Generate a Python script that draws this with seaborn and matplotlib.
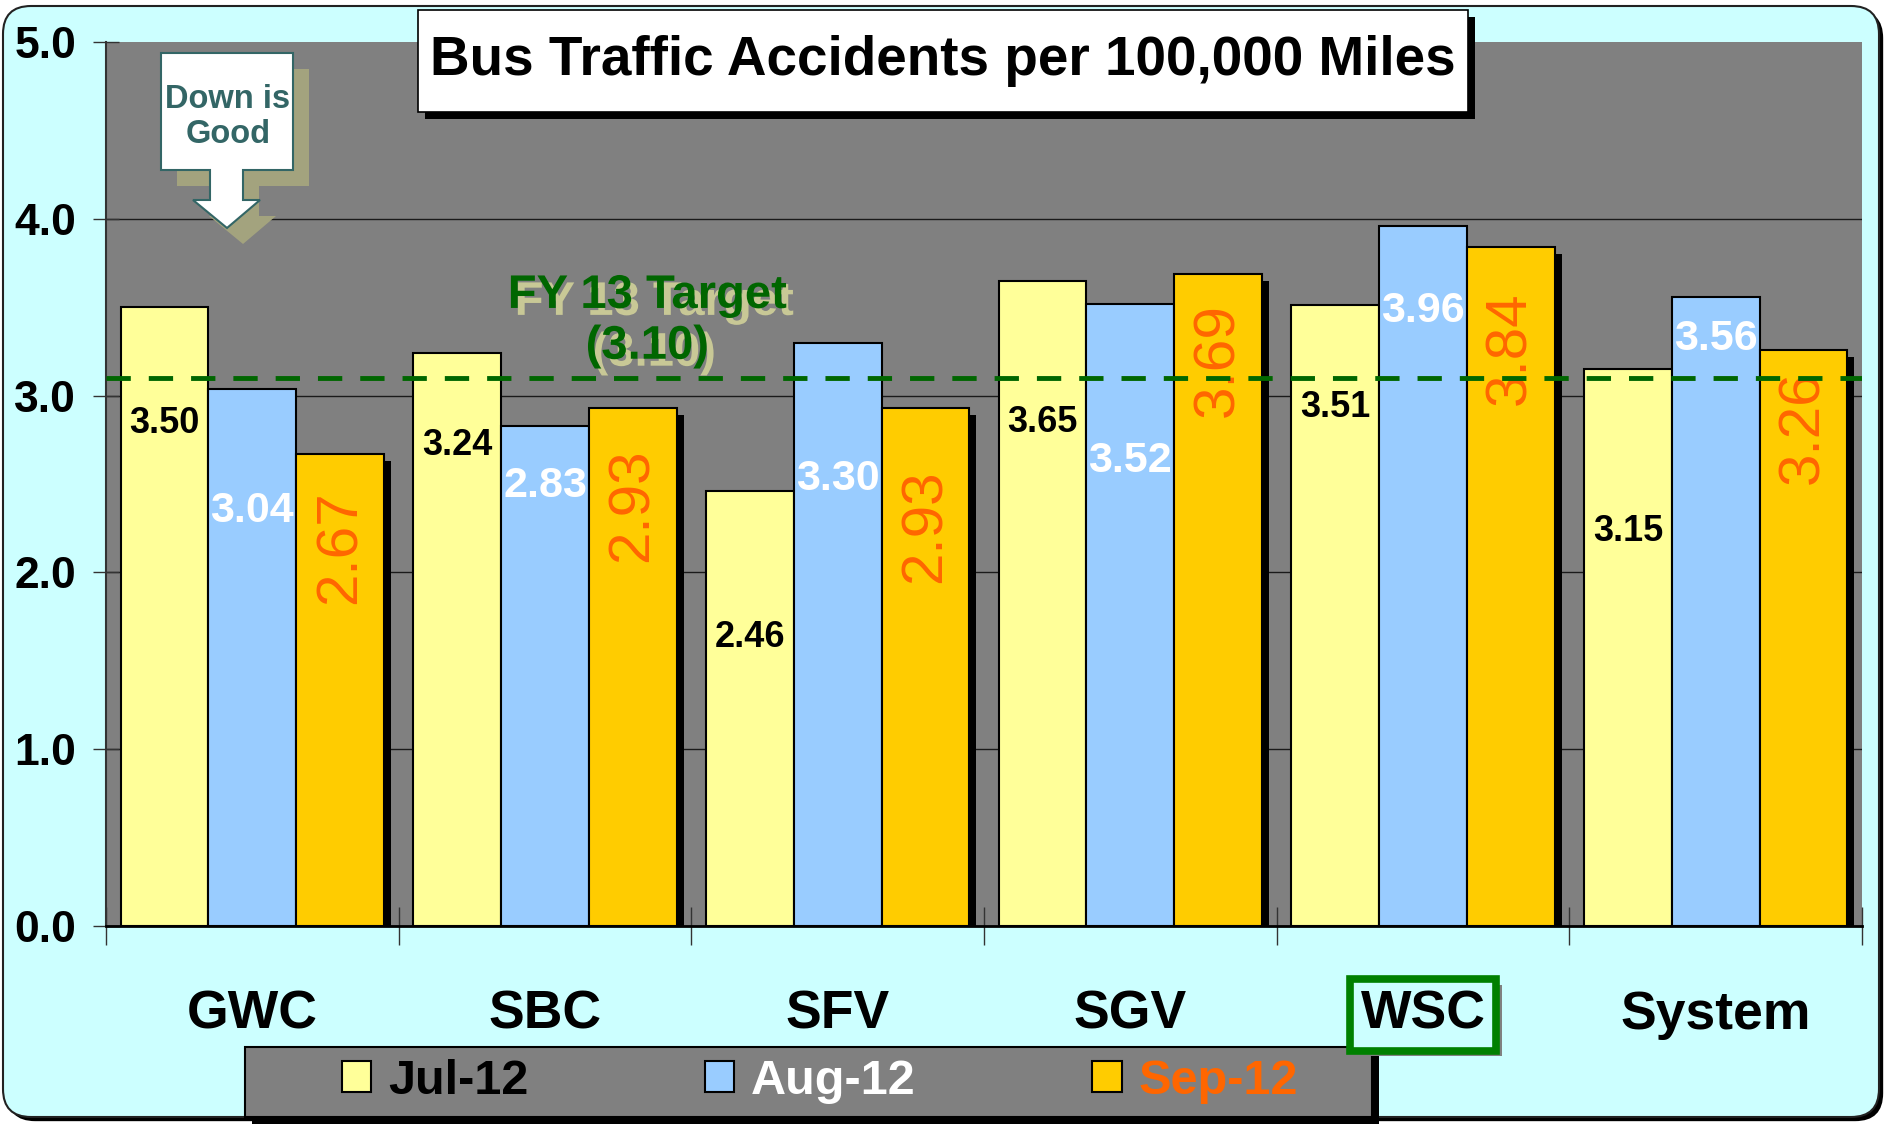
import numpy as np
import pandas as pd
import matplotlib
matplotlib.use("Agg")
import matplotlib.pyplot as plt
import matplotlib.patheffects as pe
from matplotlib.patches import FancyBboxPatch, Rectangle, Polygon, Patch
import seaborn as sns

# =====================================================
# Data
# =====================================================

regions = ["GWC", "SBC", "SFV", "SGV", "WSC", "System"]
months = ["Jul-12", "Aug-12", "Sep-12"]

jul = [3.50, 3.24, 2.46, 3.65, 3.51, 3.15]
aug = [3.04, 2.83, 3.30, 3.52, 3.96, 3.56]
sep = [2.67, 2.93, 2.93, 3.69, 3.84, 3.26]

target = 3.10

# heights (data units) where the value labels were placed inside the bars
jul_label_y = [2.84, 2.72, 1.63, 2.85, 2.93, 2.23]
aug_label_y = [2.35, 2.49, 2.53, 2.63, 3.48, 3.32]
sep_label_y = [2.14, 2.38, 2.26, 3.20, 3.27, 2.82]

month_colors = ["#FFFF99", "#99CCFF", "#FFCC00"]
legend_text_colors = ["black", "white", "#FF6600"]

df = pd.DataFrame({
    "region": regions * 3,
    "month": [m for m in months for _ in regions],
    "value": jul + aug + sep,
})

# =====================================================
# Setup
# =====================================================

W, H = 1884, 1124

sns.set_theme(style="white")
plt.rcParams["font.family"] = ["Liberation Sans", "DejaVu Sans"]
plt.rcParams["text.color"] = "black"
plt.rcParams["xtick.color"] = "black"
plt.rcParams["ytick.color"] = "black"


def fx(x):
    return x / W


def fy(y):
    return 1 - y / H


fig = plt.figure(figsize=(W / 100, H / 100), dpi=100, facecolor="white")

# rounded cyan slide background
bg = FancyBboxPatch(
    (3, H - 1117), 1876, 1111,
    boxstyle="round,pad=0,rounding_size=28",
    transform=None, facecolor="#CCFFFF", edgecolor="#222222",
    linewidth=1.5, zorder=-10,
)
bg.set_path_effects([
    pe.SimplePatchShadow(offset=(3, -3), shadow_rgbFace="black", alpha=1),
    pe.Normal(),
])
fig.add_artist(bg)

ax = fig.add_axes([fx(106), fy(926), (1862 - 106) / W, (926 - 42) / H])
ax.set_facecolor("#808080")

sns.barplot(
    data=df,
    x="region",
    y="value",
    hue="month",
    palette=month_colors,
    saturation=1,
    width=0.9,
    edgecolor="black",
    linewidth=1.5,
    legend=False,
    ax=ax,
    zorder=2,
)

# shadow on the right-hand bar of each group
for bar in ax.containers[2]:
    bar.set_path_effects([
        pe.SimplePatchShadow(offset=(5, -5), shadow_rgbFace="black", alpha=1),
        pe.Normal(),
    ])

# =====================================================
# Axes styling
# =====================================================

ax.set_xlim(-0.5, len(regions) - 0.5)
ax.set_ylim(0, 5)
ax.set_xlabel("")
ax.set_ylabel("")

for side in ["top", "right"]:
    ax.spines[side].set_visible(False)
ax.spines["left"].set_color("#333333")
ax.spines["left"].set_linewidth(1.5)
ax.spines["bottom"].set_color("black")
ax.spines["bottom"].set_linewidth(2)

yticks = np.arange(0, 5.01, 1.0)
ax.set_yticks(yticks)
ax.set_yticklabels([f"{v:.1f}" for v in yticks], fontsize=32,
                   fontweight="bold", color="black")
ax.tick_params(axis="y", direction="inout", length=19, width=1,
               color="#333333", pad=12, left=True)

ax.set_axisbelow(True)
ax.yaxis.grid(True, color="#1a1a1a", linewidth=1)
ax.yaxis.get_gridlines()[-1].set_visible(False)
ax.xaxis.grid(False)

ax.set_xticks(range(len(regions)))
ax.set_xticklabels(regions, fontsize=38.5, fontweight="bold", color="black")
ax.tick_params(axis="x", which="major", length=0, pad=46)
ax.set_xticks(np.arange(-0.5, len(regions), 1.0), minor=True)
ax.tick_params(axis="x", which="minor", direction="inout", length=27,
               width=1, color="#333333", bottom=True)

# WSC highlighted with a green box
wsc = ax.get_xticklabels()[regions.index("WSC")]
wsc.set_bbox(dict(boxstyle="square,pad=0.2", facecolor="#CCFFFF",
                  edgecolor="#008000", linewidth=5.5))
wsc.get_bbox_patch().set_path_effects([
    pe.SimplePatchShadow(offset=(4, -4), shadow_rgbFace="#808080", alpha=1),
    pe.Normal(),
])

# =====================================================
# Target line and labels
# =====================================================

ax.axhline(target, color="#006600", linewidth=3.5,
           linestyle=(0, (5, 3.7)), zorder=6)

ax.text(1.35, 3.42, f"FY 13 Target\n({target:.2f})",
        ha="center", va="center", fontsize=34, fontweight="bold",
        color="#006600", zorder=7,
        path_effects=[pe.withSimplePatchShadow(offset=(5, -5),
                                               shadow_rgbFace="#C8C896",
                                               alpha=1)])

label_styles = [
    (jul, jul_label_y, dict(fontsize=26, fontweight="bold", color="black")),
    (aug, aug_label_y, dict(fontsize=31, fontweight="bold", color="white")),
    (sep, sep_label_y, dict(fontsize=42, color="#FF6600", rotation=90)),
]
for container, (vals, ys, style) in zip(ax.containers, label_styles):
    for bar, v, y in zip(container, vals, ys):
        xc = bar.get_x() + bar.get_width() / 2
        ax.text(xc, y, f"{v:.2f}", ha="center", va="center",
                zorder=5, **style)

# =====================================================
# Title box
# =====================================================

title_box = Rectangle((fx(418), fy(112)), (1468 - 418) / W, (112 - 10) / H,
                      transform=fig.transFigure, facecolor="white",
                      edgecolor="black", linewidth=1.2, zorder=3)
title_box.set_path_effects([
    pe.SimplePatchShadow(offset=(5, -5), shadow_rgbFace="black", alpha=1),
    pe.Normal(),
])
fig.add_artist(title_box)
fig.text(fx(943), fy(61), "Bus Traffic Accidents per 100,000 Miles",
         ha="center", va="center", fontsize=39.5, fontweight="bold",
         color="black", zorder=4)

# =====================================================
# "Down is Good" callout
# =====================================================

arrow_px = [(161, 53), (293, 53), (293, 170), (243, 170), (243, 200),
            (260, 200), (227, 228), (193, 200), (210, 200), (210, 170),
            (161, 170)]
shadow = Polygon([(fx(x + 16), fy(y + 16)) for x, y in arrow_px],
                 closed=True, transform=fig.transFigure,
                 facecolor="#A3A37E", edgecolor="none", zorder=3)
fig.add_artist(shadow)
callout = Polygon([(fx(x), fy(y)) for x, y in arrow_px], closed=True,
                  transform=fig.transFigure, facecolor="white",
                  edgecolor="#336666", linewidth=1.5, zorder=4)
fig.add_artist(callout)
fig.text(fx(228), fy(117), "Down is\nGood", ha="center", va="center",
         fontsize=23.5, fontweight="bold", color="#336666",
         linespacing=1.2, zorder=5)

# =====================================================
# Legend
# =====================================================

leg_box = Rectangle((fx(245), fy(1117)), (1372 - 245) / W, (1117 - 1047) / H,
                    transform=fig.transFigure, facecolor="#808080",
                    edgecolor="black", linewidth=1.5, zorder=-1)
leg_box.set_path_effects([
    pe.SimplePatchShadow(offset=(5, -5), shadow_rgbFace="black", alpha=1),
    pe.Normal(),
])
fig.add_artist(leg_box)

handles = [Patch(facecolor=c, edgecolor="black", linewidth=1.5)
           for c in month_colors]
leg = fig.legend(handles, months, loc="center",
                 bbox_to_anchor=(fx(820), fy(1081)), ncol=3, frameon=False,
                 prop={"size": 35, "weight": "bold"},
                 handlelength=0.6, handleheight=0.6, handletextpad=0.35,
                 columnspacing=3.63)
for text, c in zip(leg.get_texts(), legend_text_colors):
    text.set_color(c)

plt.savefig("out.png", dpi=100, facecolor="white")
plt.close()

print("Saved: out.png")
